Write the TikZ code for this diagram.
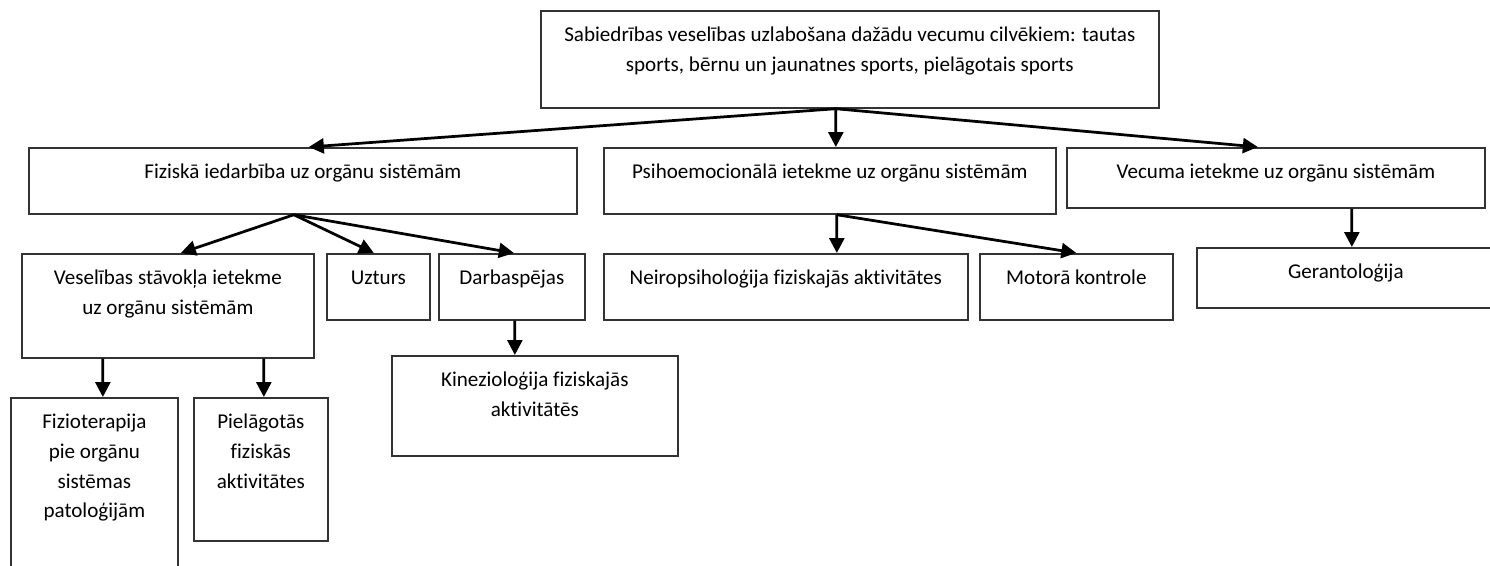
\documentclass[tikz,border=0pt]{standalone}
\usepackage{fontspec}
\setmainfont{Carlito}[Ligatures=CommonOff]
\usetikzlibrary{positioning, arrows.meta}

\begin{document}
\begin{tikzpicture}[
    x=0.02cm, y=-0.02cm,
    box/.style={draw=black!80, line width=0.035cm, inner sep=0pt, anchor=north west},
    txt/.style={anchor=north, align=center, inner sep=0pt, yshift=-0.2cm,
        font=\fontsize{12}{17}\selectfont},
    arrow/.style={-{Triangle[length=0.3cm, width=0.3cm]}, line width=0.055cm},
]
\useasboundingbox (0,0) rectangle (1490,565);

% Top level
\node[box, minimum width=12.36cm, minimum height=1.94cm,
    label={[txt]north:{\strut Sabiedrības veselības uzlabošana dažādu vecumu cilvēkiem: tautas\\sports, bērnu un jaunatnes sports, pielāgotais sports}}] (top) at (540, 10) {};

% Second level
\node[box, minimum width=10.96cm, minimum height=1.32cm,
    label={[txt]north:{\strut Fiziskā iedarbība uz orgānu sistēmām}}] (fiz) at (28, 147) {};
\node[box, minimum width=9.04cm, minimum height=1.32cm,
    label={[txt]north:{\strut Psihoemocionālā ietekme uz orgānu sistēmām}}] (psih) at (603, 147) {};
\node[box, minimum width=8.36cm, minimum height=1.2cm,
    label={[txt]north:{\strut Vecuma ietekme uz orgānu sistēmām}}] (vec) at (1066, 147) {};

% Third level
\node[box, minimum width=5.84cm, minimum height=2.08cm,
    label={[txt]north:{\strut Veselības stāvokļa ietekme\\uz orgānu sistēmām}}] (ves) at (21, 253) {};
\node[box, minimum width=2.06cm, minimum height=1.32cm,
    label={[txt]north:{\strut Uzturs}}] (uzt) at (326, 253) {};
\node[box, minimum width=2.92cm, minimum height=1.32cm,
    label={[txt]north:{\strut Darbaspējas}}] (dar) at (438, 253) {};
\node[box, minimum width=7.28cm, minimum height=1.32cm,
    label={[txt]north:{\strut Neiropsiholoģija fiziskajās aktivitātes}}] (nei) at (603, 253) {};
\node[box, minimum width=3.86cm, minimum height=1.32cm,
    label={[txt]north:{\strut Motorā kontrole}}] (mot) at (979, 253) {};
\node[box, minimum width=5.96cm, minimum height=1.2cm,
    label={[txt]north:{\strut Gerantoloģija}}] (ger) at (1196, 247) {};

% Fourth level
\node[box, minimum width=3.34cm, minimum height=3.56cm,
    label={[txt]north:{\strut Fizioterapija\\pie orgānu\\sistēmas\\patoloģijām}}] (fzt) at (10, 397) {};
\node[box, minimum width=2.68cm, minimum height=2.86cm,
    label={[txt]north:{\strut Pielāgotās\\fiziskās\\aktivitātes}}] (pie) at (193, 397) {};
\node[box, minimum width=5.72cm, minimum height=2cm,
    label={[txt]north:{\strut Kinezioloģija fiziskajās\\aktivitātēs}}] (kin) at (391, 355) {};

% Top box to second level
\draw[arrow] ([xshift=-0.28cm]top.south) -- ([xshift=0.12cm]fiz.north);
\draw[arrow] ([xshift=-0.28cm]top.south) -- ([xshift=0.12cm]psih.north);
\draw[arrow] ([xshift=-0.28cm]top.south) -- ([xshift=-0.36cm]vec.north);

% Second level to third level
\draw[arrow] ([xshift=-0.18cm]fiz.south) -- ([xshift=0.26cm]ves.north);
\draw[arrow] ([xshift=-0.18cm]fiz.south) -- ([xshift=-0.09cm]uzt.north);
\draw[arrow] ([xshift=-0.18cm]fiz.south) -- ([xshift=0.04cm]dar.north);
\draw[arrow] ([xshift=0.14cm]psih.south) -- ([xshift=1.02cm]nei.north);
\draw[arrow] ([xshift=0.14cm]psih.south) -- (mot.north);
\draw[arrow] ([xshift=1.52cm]vec.south) -- ([xshift=0.12cm]ger.north);

% Third level to fourth level
\draw[arrow] ([xshift=-1.3cm]ves.south) -- ([xshift=0.17cm]fzt.north);
\draw[arrow] ([xshift=1.92cm]ves.south) -- ([xshift=0.06cm]pie.north);
\draw[arrow] ([xshift=0.06cm]dar.south) -- ([xshift=-0.4cm]kin.north);

\end{tikzpicture}
\end{document}
